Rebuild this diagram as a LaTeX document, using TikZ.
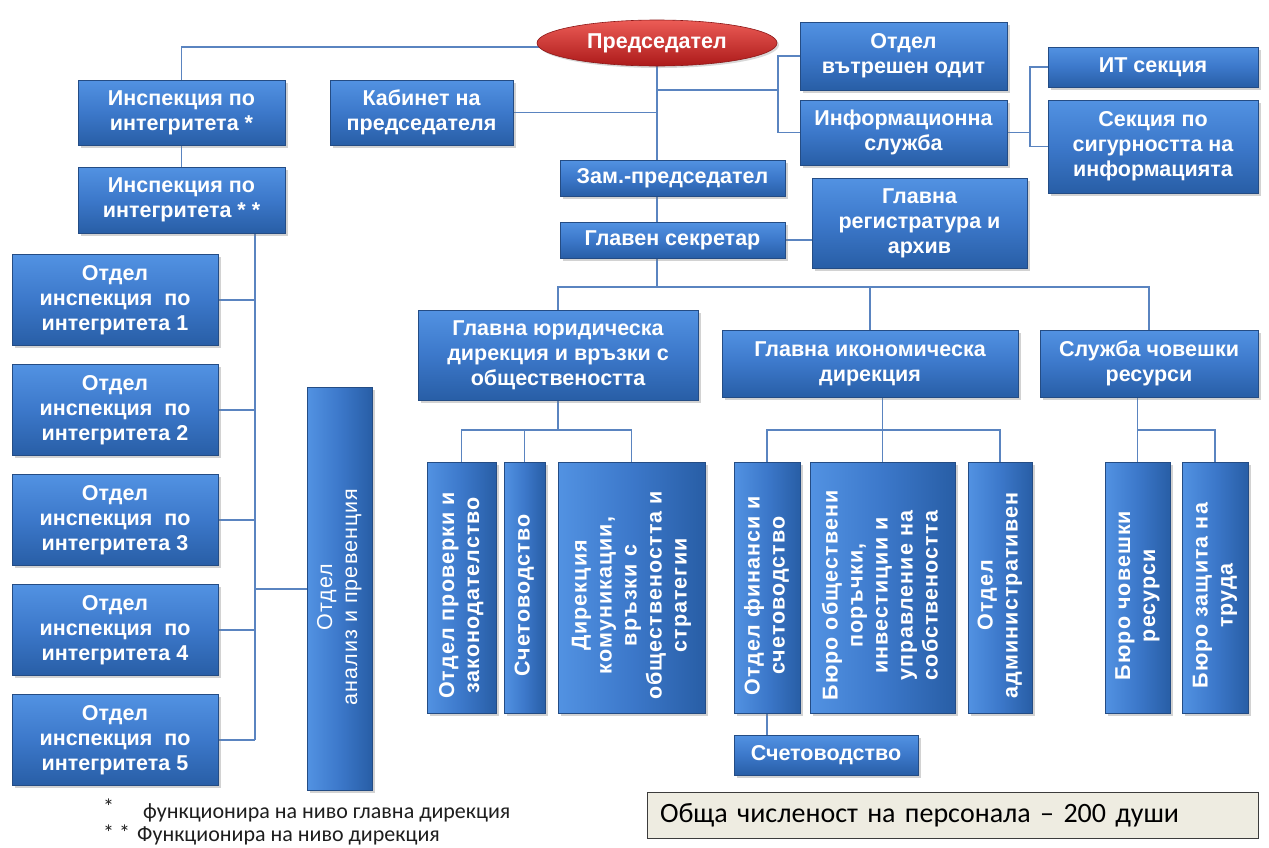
\documentclass[tikz,border=0pt]{standalone}
\usepackage{fontspec}
\setmainfont{Liberation Sans}
\newfontfamily\calfont{Carlito}
\usetikzlibrary{shapes.geometric,shadows}

\definecolor{boxtop}{RGB}{82,146,226}
\definecolor{boxmid}{RGB}{60,120,202}
\definecolor{boxbot}{RGB}{40,94,166}
\definecolor{boxedge}{RGB}{36,76,132}
\definecolor{wire}{RGB}{90,132,192}
\definecolor{redtop}{RGB}{236,92,86}
\definecolor{redbot}{RGB}{172,26,26}
\definecolor{rededge}{RGB}{140,24,24}
\definecolor{noteback}{RGB}{238,236,225}
\definecolor{noteedge}{RGB}{60,60,60}
\definecolor{legendtext}{RGB}{30,30,30}

\pgfdeclarelayer{paper}
\pgfdeclarelayer{wires}
\pgfsetlayers{paper,wires,main}

% rotated multi-line label, slightly spaced out and set a little low in its box
\newcommand{\vlabel}[1]{\rotatebox{90}{\addfontfeature{LetterSpace=5}%
  \begin{tabular}{@{}c@{}}#1\end{tabular}\hspace{16pt}}}

\tikzset{
  unitbase/.style={draw=boxedge, line width=0.6pt, text=white, inner sep=0pt,
    align=center, font=\fontsize{21.5}{25}\selectfont\bfseries,
    drop shadow={opacity=0.35, shadow xshift=2.5pt, shadow yshift=-2.5pt}},
  hunit/.style={unitbase, top color=boxtop, bottom color=boxbot, middle color=boxmid},
  vunit/.style={unitbase, left color=boxtop, right color=boxbot, middle color=boxmid,
    minimum height=251pt},
  wh/.style 2 args={minimum width=#1pt, minimum height=#2pt},
  chief/.style={ellipse, draw=rededge, line width=0.6pt, top color=redtop,
    bottom color=redbot, text=white, inner sep=0pt,
    font=\fontsize{21.5}{25}\selectfont\bfseries,
    drop shadow={opacity=0.3, shadow xshift=2pt, shadow yshift=-2pt}},
  wire/.style={draw=wire, line width=1.1pt},
  note/.style={draw=noteedge, line width=1pt, fill=noteback, inner sep=0pt},
  legend/.style={inner sep=0pt, text=legendtext, font=\calfont\fontsize{22}{26}\selectfont},
}

\begin{document}
\begin{tikzpicture}[x=1pt,y=-1pt]
\useasboundingbox (0,0) rectangle (1269,847);
\begin{pgfonlayer}{paper}
  \fill[white] (0,0) rectangle (1269,847);
\end{pgfonlayer}

% --- top level ---
\node[chief, minimum width=240pt, minimum height=46pt] (pres) at (657,43) {Председател};

\node[hunit, wh={207}{65}] (inspA) at (181.5,112.5) {Инспекция по\\интегритета *};
\node[hunit, wh={207}{66}] (inspB) at (181.5,200) {Инспекция по\\интегритета * *};
\node[hunit, wh={183}{65}] (kab) at (421.5,112.5) {Кабинет на\\председателя};

\node[hunit, wh={207}{68}] (audit) at (903.5,56) {Отдел\\вътрешен одит};
\node[hunit, wh={207}{65}] (info) at (903.5,132.5) {Информационна\\служба};
\node[hunit, wh={210}{40}] (it) at (1153,67) {ИТ секция};
\node[hunit, wh={210}{93}] (sec) at (1153,146.5) {Секция по\\сигурността на\\информацията};

\node[hunit, wh={225}{36}] (zam) at (672.5,178) {Зам.-председател};
\node[hunit, wh={225}{36}] (sek) at (672.5,240) {Главен секретар};
\node[hunit, wh={215}{90}] (reg) at (919.5,223) {Главна\\регистратура и\\архив};

% --- directorates ---
\node[hunit, wh={280}{90}] (jur) at (558,355) {Главна юридическа\\дирекция и връзки с\\обществеността};
\node[hunit, wh={296}{67}] (eco) at (870,363.5) {Главна икономическа\\дирекция};
\node[hunit, wh={218}{67}] (hr) at (1149,363.5) {Служба човешки\\ресурси};

% --- departments (vertical labels) ---
\node[vunit, minimum width=69pt] (v1) at (461.5,587.5) {\vlabel{Отдел проверки и\\законодателство}};
\node[vunit, minimum width=41pt] (v2) at (524.5,587.5) {\vlabel{Счетоводство}};
\node[vunit, minimum width=147pt] (v3) at (631.5,587.5) {\vlabel{Дирекция\\комуникации,\\връзки с\\обществеността и\\стратегии}};
\node[vunit, minimum width=66pt] (v4) at (767,587.5) {\vlabel{Отдел финанси и\\счетоводство}};
\node[vunit, minimum width=145pt] (v5) at (882.5,587.5) {\vlabel{Бюро обществени\\поръчки,\\инвестиции и\\управление на\\собствеността}};
\node[vunit, minimum width=64pt] (v6) at (1000,587.5) {\vlabel{Отдел\\административен}};
\node[vunit, minimum width=65pt] (v7) at (1137.5,587.5) {\vlabel{Бюро човешки\\ресурси}};
\node[vunit, minimum width=66pt] (v8) at (1215,587.5) {\vlabel{Бюро защита на\\труда}};
\node[hunit, wh={184}{40}] (sch2) at (826,755) {Счетоводство};

% --- inspection departments ---
\foreach \i/\y in {1/300,2/410,3/520,4/630,5/740}{
  \node[hunit, wh={206}{91}] (L\i) at (115,\y) {Отдел\\инспекция\ \ по\\интегритета \i};
}
\node[vunit, minimum width=65pt, minimum height=403pt,
      font=\fontsize{21.5}{25}\selectfont\mdseries] (anal) at (339.5,589)
      {\vlabel{Отдел\\анализ и превенция}};

% --- connectors ---
\coordinate (lx) at (255,0);
\coordinate (py) at (0,47);
\coordinate (ab) at (778,90);
\coordinate (ix) at (1030,0);
\coordinate (br) at (657,287);
\coordinate (jy) at (0,430);

\begin{pgfonlayer}{wires}
  \draw[wire] (pres |- py) -| (inspA.north);
  \draw[wire] (inspA.south) -- (inspB.north);
  \draw[wire] (inspB.south -| lx) -- (L5.east -| lx);
  \foreach \i in {1,...,5}{\draw[wire] (L\i.east) -- (L\i.east -| lx);}
  \draw[wire] (anal.west) -- (anal.west -| lx);

  \draw[wire] (pres.south) -- (br);
  \draw[wire] (kab.east) -- (kab.east -| pres.south);
  \draw[wire] (pres.south |- ab) -- (ab);
  \draw[wire] (audit.west) -| (ab) |- (info.west);
  \draw[wire] (info.east) -- (info.east -| ix);
  \draw[wire] (it.west) -| (ix |- info.east) |- (sec.west);
  \draw[wire] (sek.east) -- (sek.east -| reg.west);

  \draw[wire] (jur.north) |- (br) -| (hr.north);
  \draw[wire] (eco.north) -- (eco.north |- br);

  \draw[wire] (jur.south) -- (jur.south |- jy);
  \draw[wire] (v1.north) |- (v3.north |- jy) -- (v3.north);
  \draw[wire] (v2.north) -- (v2.north |- jy);
  \draw[wire] (v4.north) |- (v6.north |- jy) -- (v6.north);
  \draw[wire] (eco.south -| v5.north) -- (v5.north);
  \draw[wire] (hr.south -| v7.north) -- (v7.north);
  \draw[wire] (v7.north |- jy) -| (v8.north);
  \draw[wire] (v4.south) -- (v4.south |- sch2.north);
\end{pgfonlayer}

% --- notes ---
\node[legend, anchor=base west] (star1) at (103,814) {*};
\node[legend, anchor=base west] (note1) at (143,818) {функционира на ниво главна дирекция};
\node[legend, anchor=base west] (star2) at (103,840) {* *};
\node[legend, anchor=base west] (note2) at (137,841) {Функционира на ниво дирекция};

\node[note, minimum width=611pt, minimum height=46pt, text width=585pt, align=left,
      font=\calfont\fontsize{28}{32}\selectfont] (total) at (952.5,815)
      {Обща численост на персонала – 200 души};
\end{tikzpicture}
\end{document}
